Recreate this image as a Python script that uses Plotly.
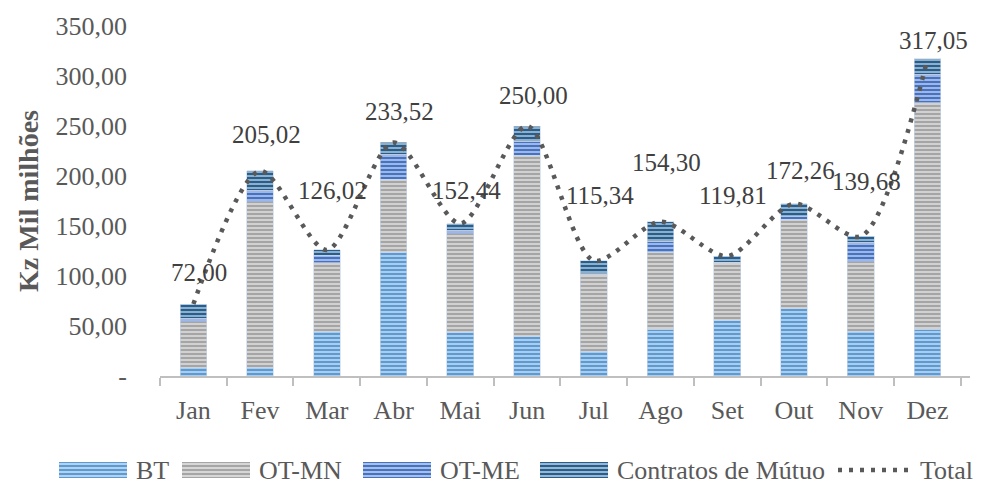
import plotly.graph_objects as go

months = ["Jan", "Fev", "Mar", "Abr", "Mai", "Jun", "Jul", "Ago", "Set", "Out", "Nov", "Dez"]
bt = [8.30, 9.00, 44.30, 124.00, 44.00, 39.30, 25.00, 46.70, 56.00, 67.30, 45.00, 46.70]
ot_mn = [46.00, 165.30, 69.00, 72.70, 98.30, 181.40, 76.70, 77.30, 57.30, 89.40, 69.30, 226.60]
ot_me = [3.40, 11.40, 7.70, 25.00, 3.40, 14.30, 0.80, 11.00, 0.70, 2.80, 19.70, 28.40]
contratos = [14.30, 19.32, 5.02, 11.82, 6.74, 15.00, 12.84, 19.30, 5.81, 12.76, 5.68, 15.35]
total = [72.00, 205.02, 126.02, 233.52, 152.44, 250.00, 115.34, 154.30, 119.81, 172.26, 139.68, 317.05]
y_ticks = [0, 50, 100, 150, 200, 250, 300, 350]

# label vertical offsets (px) as placed in the original
label_yshift = [32, 36, 59, 31, 33, 31, 65, 59, 61, 33, 55, 18]

FONT = "Liberation Serif"
TXT = "#595959"

# plot area in pixels
L, R, T, B = 160, 12, 26, 115
W, H = 982, 491
PW, PH = W - L - R, H - T - B

def px_x(p):
    return (p - L) / PW

def px_y(p):
    return (H - B - p) / PH

def fmt(v):
    return f"{v:.2f}".replace(".", ",")

fig = go.Figure()
series = [
    ("BT", bt, "#5B9BD5"),
    ("OT-MN", ot_mn, "#A5A5A5"),
    ("OT-ME", ot_me, "#4472C4"),
    ("Contratos de Mútuo", contratos, "#255E91"),
]
for name, vals, col in series:
    fig.add_trace(go.Bar(
        x=months, y=vals, name=name, showlegend=False,
        marker=dict(color=col,
                    line=dict(color="rgba(200,215,235,0.8)", width=0.8),
                    pattern=dict(shape="-", fgcolor="white", fgopacity=0.55,
                                 size=4, solidity=0.45)),
    ))

LINE_DASH = "4px,7px"
fig.add_trace(go.Scatter(
    x=months, y=total, name="Total", mode="lines", showlegend=False,
    line=dict(color="#595959", width=4.5, dash=LINE_DASH, shape="spline", smoothing=0.8),
))

annotations = []
for m, v, dy in zip(months, total, label_yshift):
    annotations.append(dict(x=m, y=v, text=fmt(v), showarrow=False,
                            xshift=6, yshift=dy, yanchor="middle",
                            font=dict(family=FONT, size=25, color="#404040")))

# custom legend
shapes = []
leg_y = 470
leg_items = [
    ("BT", "#5B9BD5", 59, 127, 134),
    ("OT-MN", "#A5A5A5", 182, 250, 257),
    ("OT-ME", "#4472C4", 363, 431, 438),
    ("Contratos de Mútuo", "#255E91", 540, 608, 615),
]
for name, col, x0, x1, tx in leg_items:
    shapes.append(dict(type="rect", xref="paper", yref="paper",
                       x0=px_x(x0), x1=px_x(x1), y0=px_y(leg_y + 8), y1=px_y(leg_y - 8),
                       fillcolor=col, line=dict(width=0)))
    for k in range(4):
        yy = leg_y - 6 + k * 4
        shapes.append(dict(type="line", xref="paper", yref="paper",
                           x0=px_x(x0), x1=px_x(x1), y0=px_y(yy), y1=px_y(yy),
                           line=dict(color="rgba(255,255,255,0.55)", width=1.8)))
    annotations.append(dict(xref="paper", yref="paper", x=px_x(tx), y=px_y(leg_y),
                            xanchor="left", yanchor="middle", text=name, showarrow=False,
                            font=dict(family=FONT, size=26, color=TXT)))
shapes.append(dict(type="line", xref="paper", yref="paper",
                   x0=px_x(838), x1=px_x(910), y0=px_y(leg_y), y1=px_y(leg_y),
                   line=dict(color="#595959", width=4.5, dash=LINE_DASH)))
annotations.append(dict(xref="paper", yref="paper", x=px_x(918), y=px_y(leg_y),
                        xanchor="left", yanchor="middle", text="Total", showarrow=False,
                        font=dict(family=FONT, size=26, color=TXT)))

fig.update_layout(
    barmode="stack", bargap=0.6,
    width=W, height=H,
    margin=dict(l=L, r=R, t=T, b=B),
    plot_bgcolor="white", paper_bgcolor="white",
    font=dict(family=FONT, size=24, color=TXT),
    showlegend=False,
    annotations=annotations, shapes=shapes,
    xaxis=dict(showline=True, linecolor="#BFBFBF", linewidth=2,
               ticks="outside", tickson="boundaries", ticklen=8, tickcolor="#BFBFBF",
               tickwidth=2, tickfont=dict(family=FONT, size=26, color=TXT),
               ticklabelstandoff=10, showgrid=False, automargin=False),
    yaxis=dict(range=[0, 350], tickvals=y_ticks,
               ticktext=["-" if v == 0 else fmt(v) for v in y_ticks],
               showgrid=False, zeroline=False, showline=False,
               ticklabelstandoff=32, automargin=False,
               tickfont=dict(family=FONT, size=26, color=TXT),
               title=dict(text="<b>Kz Mil milhões</b>",
                          font=dict(family=FONT, size=28, color=TXT),
                          standoff=8)),
)

fig.write_html("out.html", config={"displayModeBar": False},
               post_script="document.body.style.margin='0';")
